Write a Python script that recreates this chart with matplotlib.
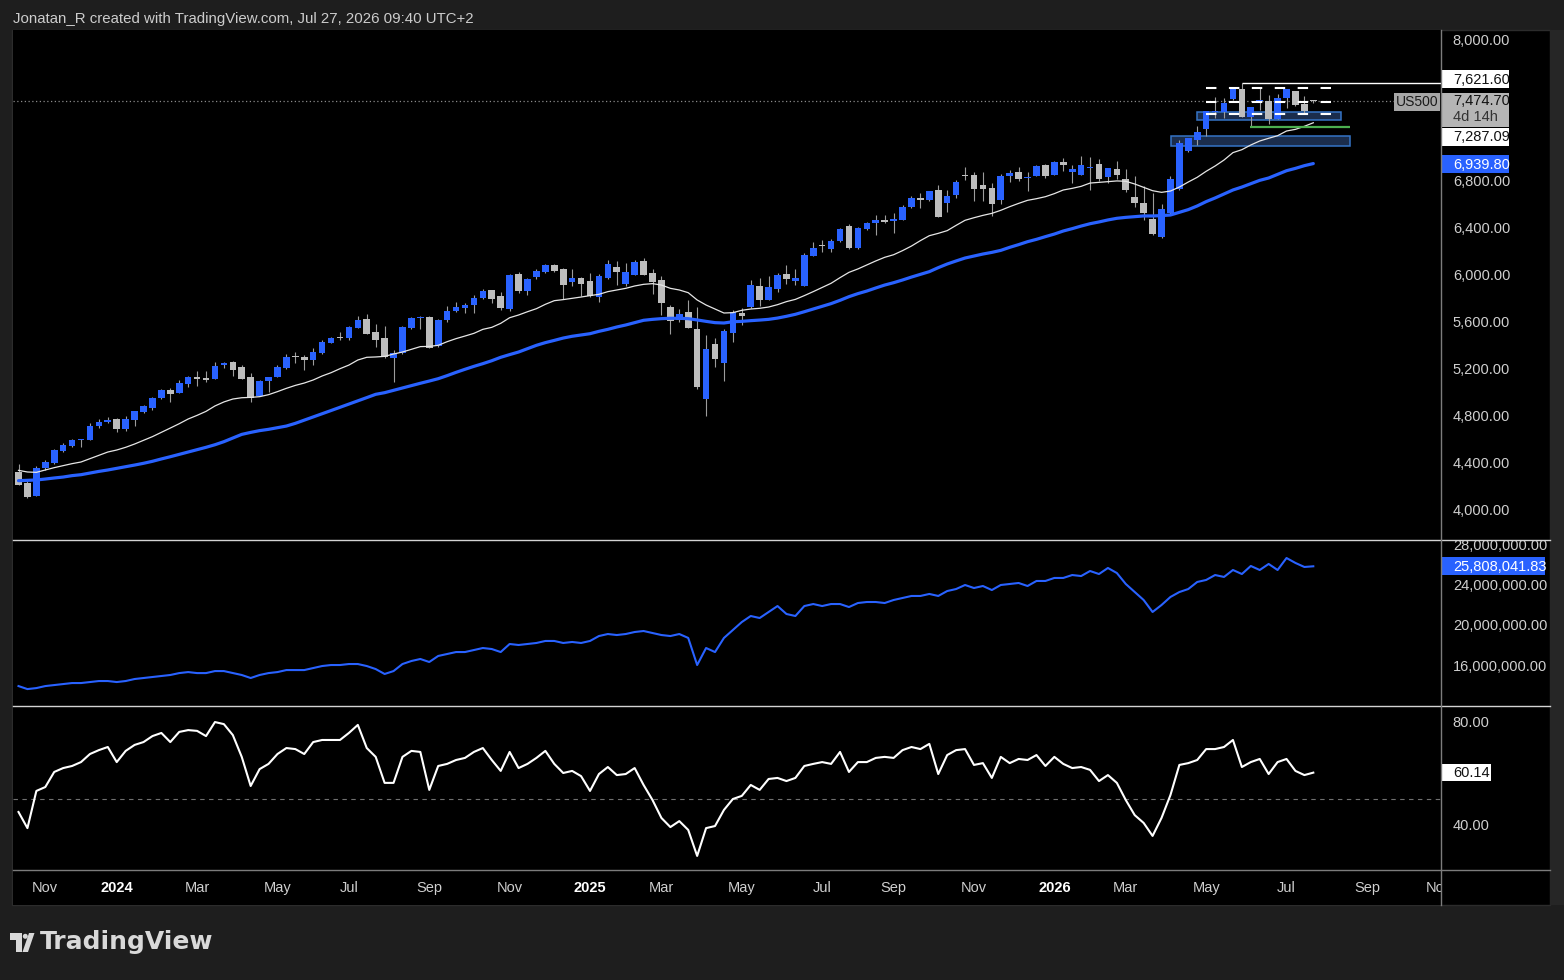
import numpy as np
import pandas as pd
import matplotlib
matplotlib.use('Agg')
import matplotlib.pyplot as plt
from matplotlib.patches import Rectangle, Polygon, Circle

plt.rcParams['font.family'] = ['Liberation Sans', 'DejaVu Sans']

W, H = 1564, 980

# weekly bars, first one is the week of 16 Oct 2023
dates = pd.date_range('2023-10-16', periods=146, freq='W-MON')

opens = [4315, 4221, 4114, 4352, 4394, 4496, 4539, 4590, 4590, 4709,
         4743, 4766, 4684, 4760, 4828, 4862, 4947, 5013, 4990, 5067,
         5121, 5112, 5109, 5223, 5251, 5208, 5121, 4965, 5092, 5126,
         5200, 5302, 5294, 5271, 5330, 5416, 5464, 5458, 5543, 5617,
         5506, 5455, 5288, 5325, 5543, 5628, 5634, 5387, 5609, 5685,
         5711, 5739, 5799, 5861, 5813, 5702, 6000, 5855, 5977, 6017,
         6077, 6043, 5932, 5966, 5940, 5804, 5969, 6060, 5915, 5994,
         6111, 6009, 5949, 5719, 5609, 5677, 5532, 4939, 5404, 5245,
         5498, 5665, 5722, 5898, 5782, 5875, 6000, 5943, 5901, 6156,
         6247, 6213, 6284, 6408, 6221, 6383, 6437, 6460, 6454, 6462,
         6570, 6647, 6630, 6715, 6607, 6672, 6845, 6843, 6757, 6732,
         6630, 6834, 6868, 6820, 6834, 6928, 6843, 6950, 6868, 6843,
         6905, 6936, 6826, 6894, 6809, 6655, 6604, 6468, 6315, 6519,
         6723, 7047, 7140, 7234, 7379, 7376, 7489, 7575, 7336, 7475,
         7472, 7319, 7498, 7557, 7447, 7478]
highs = [4383, 4255, 4369, 4417, 4513, 4559, 4593, 4599, 4729, 4766,
         4783, 4772, 4789, 4837, 4888, 4956, 5024, 5027, 5098, 5132,
         5174, 5174, 5251, 5251, 5262, 5223, 5155, 5098, 5126, 5223,
         5319, 5336, 5308, 5367, 5438, 5467, 5506, 5560, 5643, 5660,
         5574, 5557, 5353, 5557, 5634, 5640, 5640, 5620, 5728, 5762,
         5750, 5818, 5872, 5861, 5847, 6000, 6017, 5966, 6045, 6082,
         6082, 6048, 6043, 5974, 6009, 6000, 6119, 6111, 6094, 6119,
         6136, 6043, 5983, 5736, 5702, 5779, 5719, 5481, 5455, 5529,
         5694, 5708, 5949, 5966, 5983, 6008, 6077, 6043, 6179, 6272,
         6289, 6301, 6391, 6426, 6397, 6443, 6499, 6499, 6519, 6587,
         6664, 6689, 6706, 6757, 6715, 6800, 6911, 6868, 6868, 6774,
         6851, 6885, 6911, 6868, 6928, 6936, 6962, 6987, 6928, 7004,
         6993, 6979, 6902, 6962, 6894, 6834, 6749, 6689, 6596, 6834,
         7140, 7158, 7260, 7387, 7506, 7498, 7575, 7621.6, 7421, 7583,
         7523, 7532, 7575, 7557, 7515, 7484]
lows = [4201, 4096, 4111, 4332, 4383, 4488, 4530, 4530, 4587, 4687,
        4735, 4658, 4667, 4709, 4820, 4840, 4936, 4913, 4984, 5041,
        5050, 5084, 5106, 5203, 5135, 5104, 4913, 4959, 4999, 5121,
        5194, 5245, 5186, 5228, 5322, 5410, 5441, 5441, 5538, 5487,
        5382, 5288, 5084, 5319, 5535, 5535, 5367, 5382, 5594, 5680,
        5665, 5668, 5790, 5756, 5694, 5688, 5841, 5821, 5955, 6009,
        6017, 5790, 5901, 5813, 5801, 5762, 5957, 5906, 5898, 5989,
        5989, 5830, 5651, 5492, 5589, 5538, 5024, 4794, 5211, 5092,
        5424, 5569, 5708, 5730, 5779, 5850, 5915, 5906, 5898, 6153,
        6190, 6190, 6275, 6216, 6216, 6374, 6332, 6437, 6352, 6457,
        6562, 6562, 6624, 6485, 6528, 6650, 6800, 6621, 6621, 6494,
        6596, 6783, 6792, 6706, 6834, 6817, 6843, 6877, 6774, 6843,
        6715, 6792, 6772, 6809, 6698, 6573, 6460, 6332, 6306, 6511,
        6715, 7038, 7095, 7174, 7328, 7328, 7481, 7336, 7251, 7396,
        7277, 7319, 7413, 7430, 7362, 7458]
closes = [4207, 4105, 4349, 4400, 4502, 4545, 4587, 4596, 4706, 4740,
          4755, 4684, 4766, 4831, 4877, 4945, 5013, 4982, 5069, 5121,
          5109, 5101, 5217, 5240, 5186, 5109, 4947, 5089, 5123, 5208,
          5294, 5294, 5271, 5336, 5421, 5455, 5455, 5549, 5609, 5492,
          5438, 5296, 5328, 5549, 5626, 5634, 5373, 5609, 5685, 5719,
          5736, 5796, 5855, 5790, 5713, 5992, 5855, 5957, 6026, 6077,
          6026, 5909, 5966, 5915, 5813, 5983, 6085, 6017, 6017, 6102,
          5994, 5932, 5756, 5603, 5660, 5543, 5041, 5362, 5280, 5518,
          5677, 5645, 5906, 5782, 5889, 5991, 5957, 5966, 6162, 6221,
          6238, 6281, 6383, 6221, 6391, 6434, 6460, 6445, 6468, 6570,
          6647, 6633, 6706, 6485, 6664, 6783, 6837, 6723, 6723, 6599,
          6834, 6860, 6809, 6826, 6919, 6834, 6953, 6928, 6894, 6928,
          6911, 6809, 6902, 6843, 6715, 6604, 6519, 6340, 6553, 6809,
          7115, 7158, 7209, 7387, 7387, 7455, 7575, 7336, 7421, 7481,
          7319, 7498, 7575, 7438, 7387, 7474.7]

# moving averages as plotted (white = fast, blue = slow)
ma_fast = [4329, 4315, 4312, 4332, 4352, 4369, 4386, 4400, 4428, 4457,
           4485, 4502, 4525, 4553, 4584, 4616, 4652, 4689, 4726, 4766,
           4797, 4831, 4877, 4911, 4936, 4947, 4950, 4956, 4973, 4999,
           5027, 5052, 5072, 5098, 5132, 5160, 5194, 5225, 5268, 5291,
           5294, 5299, 5319, 5336, 5359, 5382, 5384, 5393, 5424, 5450,
           5472, 5495, 5529, 5546, 5580, 5628, 5651, 5679, 5705, 5742,
           5773, 5782, 5793, 5804, 5816, 5827, 5850, 5864, 5878, 5898,
           5912, 5918, 5906, 5878, 5864, 5841, 5779, 5736, 5702, 5668,
           5671, 5691, 5702, 5708, 5719, 5739, 5765, 5784, 5816, 5850,
           5886, 5921, 5969, 6014, 6043, 6077, 6111, 6142, 6164, 6199,
           6238, 6284, 6326, 6346, 6369, 6414, 6457, 6479, 6499, 6516,
           6542, 6573, 6601, 6627, 6641, 6658, 6684, 6715, 6729, 6746,
           6774, 6780, 6786, 6792, 6789, 6766, 6738, 6709, 6695, 6706,
           6740, 6783, 6823, 6874, 6919, 6970, 7033, 7058, 7098, 7132,
           7155, 7177, 7217, 7231, 7257, 7287.09]
ma_slow = [4241, 4244, 4247, 4255, 4264, 4272, 4284, 4292, 4306, 4320,
           4332, 4346, 4360, 4374, 4389, 4406, 4426, 4445, 4465, 4485,
           4505, 4525, 4547, 4573, 4604, 4635, 4652, 4667, 4678, 4692,
           4706, 4729, 4756, 4783, 4810, 4838, 4866, 4893, 4920, 4948,
           4976, 4990, 5010, 5030, 5050, 5070, 5089, 5109, 5135, 5163,
           5189, 5214, 5237, 5262, 5291, 5314, 5336, 5365, 5393, 5416,
           5435, 5455, 5470, 5481, 5492, 5512, 5529, 5549, 5566, 5586,
           5606, 5614, 5620, 5623, 5623, 5620, 5609, 5597, 5586, 5583,
           5594, 5597, 5603, 5608, 5614, 5625, 5640, 5657, 5679, 5702,
           5725, 5748, 5776, 5807, 5833, 5855, 5881, 5906, 5926, 5949,
           5974, 5997, 6020, 6054, 6085, 6111, 6136, 6153, 6170, 6184,
           6201, 6227, 6250, 6275, 6295, 6318, 6340, 6366, 6386, 6408,
           6428, 6443, 6460, 6474, 6482, 6488, 6494, 6494, 6497, 6502,
           6525, 6548, 6579, 6616, 6647, 6681, 6715, 6740, 6769, 6797,
           6817, 6848, 6879, 6899, 6922, 6939.80]

# second pane line, millions
line_mln = [13.91, 13.61, 13.71, 13.91, 14.01, 14.11, 14.21, 14.21, 14.31, 14.41,
            14.41, 14.31, 14.41, 14.61, 14.71, 14.81, 14.91, 15.01, 15.20, 15.30,
            15.20, 15.20, 15.40, 15.40, 15.20, 15.01, 14.71, 15.01, 15.20, 15.30,
            15.50, 15.50, 15.50, 15.70, 15.90, 16.00, 16.00, 16.10, 16.10, 15.90,
            15.60, 15.11, 15.40, 16.10, 16.40, 16.60, 16.30, 16.90, 17.09, 17.29,
            17.29, 17.49, 17.69, 17.59, 17.29, 18.09, 17.99, 18.09, 18.19, 18.39,
            18.39, 18.19, 18.29, 18.19, 18.39, 18.88, 19.08, 18.98, 19.08, 19.28,
            19.38, 19.18, 18.98, 18.88, 19.08, 18.69, 16.00, 17.69, 17.29, 18.69,
            19.48, 20.27, 20.87, 20.67, 21.27, 21.86, 21.07, 20.87, 21.86, 22.06,
            21.86, 22.06, 22.06, 21.76, 22.16, 22.26, 22.26, 22.16, 22.46, 22.66,
            22.86, 22.86, 23.06, 22.86, 23.35, 23.55, 23.95, 23.65, 23.85, 23.45,
            23.95, 24.05, 24.15, 23.85, 24.35, 24.35, 24.65, 24.65, 24.94, 24.84,
            25.34, 25.04, 25.64, 25.14, 24.05, 23.25, 22.46, 21.27, 21.96, 22.76,
            23.25, 23.55, 24.25, 24.45, 24.94, 24.75, 25.44, 25.04, 25.84, 25.44,
            26.04, 25.44, 26.63, 26.14, 25.74, 25.808041]

rsi = [45.0, 38.8, 53.1, 54.6, 60.4, 61.9, 62.7, 64.2, 67.3, 68.8,
       70.0, 64.2, 68.5, 70.8, 71.9, 74.2, 75.4, 71.9, 75.8, 76.5,
       76.2, 74.2, 79.6, 78.8, 74.6, 66.2, 55.0, 61.5, 63.5, 67.3,
       69.6, 69.2, 67.3, 71.9, 72.7, 72.7, 72.7, 75.4, 78.5, 69.6,
       66.2, 56.2, 56.2, 66.2, 68.5, 68.1, 53.5, 62.7, 63.5, 65.0,
       65.8, 68.1, 69.6, 65.0, 60.8, 68.1, 61.9, 63.5, 65.8, 68.5,
       63.5, 60.0, 60.8, 58.8, 53.1, 59.6, 62.3, 59.2, 59.6, 61.9,
       55.4, 49.6, 42.7, 39.2, 41.5, 38.1, 28.1, 38.8, 39.6, 45.8,
       50.0, 51.2, 55.4, 53.5, 57.7, 58.1, 56.9, 58.1, 62.7, 63.5,
       64.2, 63.5, 68.1, 60.4, 64.2, 64.2, 65.8, 66.2, 65.8, 68.8,
       70.0, 69.2, 71.2, 59.6, 66.9, 68.8, 69.2, 63.1, 63.8, 58.1,
       66.2, 63.8, 65.4, 65.0, 66.9, 62.7, 66.2, 63.5, 61.9, 62.3,
       61.2, 56.9, 59.2, 56.2, 49.6, 43.8, 40.8, 35.8, 42.7, 51.5,
       63.1, 63.8, 65.0, 69.2, 69.2, 70.0, 72.7, 62.3, 64.2, 65.4,
       59.6, 64.2, 65.4, 60.8, 59.2, 60.14]

# drawings on the chart (price levels)
range_high = 7621.6
green_level = 7254
dash_levels = [7587, 7466, 7358]
zone_upper = (7313, 7379)
zone_lower = (7092, 7175)

month_ticks = [('2023-11-06', 'Nov'), ('2024-01-01', '2024'), ('2024-03-04', 'Mar'),
               ('2024-05-06', 'May'), ('2024-07-01', 'Jul'), ('2024-09-02', 'Sep'),
               ('2024-11-04', 'Nov'), ('2025-01-06', '2025'), ('2025-03-03', 'Mar'),
               ('2025-05-05', 'May'), ('2025-07-07', 'Jul'), ('2025-09-01', 'Sep'),
               ('2025-11-03', 'Nov'), ('2026-01-05', '2026'), ('2026-03-02', 'Mar'),
               ('2026-05-04', 'May'), ('2026-07-06', 'Jul'), ('2026-09-07', 'Sep'),
               ('2026-11-02', 'Nov')]

BG = '#1e1e1e'
UP = '#2962ff'
DOWN = '#bdbdbd'
TXT = '#cfcfcf'


def rect(x0, y0, x1, y1):
    return [x0 / W, 1 - y1 / H, (x1 - x0) / W, (y1 - y0) / H]


def clean(ax):
    ax.set_facecolor('black')
    for s in ax.spines.values():
        s.set_visible(False)
    ax.tick_params(axis='x', bottom=False, labelbottom=False)


fig = plt.figure(figsize=(W / 100, H / 100), dpi=100, facecolor=BG)

bg = fig.add_axes([0, 0, 1, 1], zorder=0)
bg.set_xlim(0, W)
bg.set_ylim(H, 0)
bg.axis('off')
bg.add_patch(Rectangle((12, 30), 1538, 875, facecolor='black', edgecolor='#2c2c2c', lw=1))
bg.add_patch(Rectangle((1550, 30), 14, 875, facecolor='#262626', edgecolor='none'))

x = np.arange(len(closes))
xlim = (-0.616, 159.3)

# ---------------- main price pane ----------------
ax = fig.add_axes(rect(13, 30, 1441, 540), zorder=2)
clean(ax)
ax.set_xlim(*xlim)
ax.set_ylim(3736.2, 8076.6)

o = np.array(opens); c = np.array(closes)
up = c >= o
body_lo = np.minimum(o, c)
body_h = np.maximum(np.abs(c - o), 8.5)
ax.vlines(x, lows, highs, colors='#9c9c9c', lw=0.8, zorder=3)
ax.bar(x, body_h, bottom=body_lo, width=0.74,
       color=np.where(up, UP, DOWN), linewidth=0, zorder=4)

ax.plot(x, ma_fast, color='#e6e6e6', lw=0.9, zorder=5)
ax.plot(x, ma_slow, color=UP, lw=2.3, zorder=5, solid_capstyle='round')

ax.axhline(closes[-1], color='#8a8a8a', lw=0.9, ls=(0, (1, 2)), zorder=2)
ax.hlines(range_high, 137, xlim[1], color='white', lw=1.0, zorder=6)
ax.hlines(green_level, 137.9, 149.1, color='#4caf50', lw=1.6, zorder=6)
for lvl in dash_levels:
    ax.hlines(lvl, 133, 148.1, color='white', lw=1.5, ls=(0, (5, 6)), zorder=7)
for (lo, hi), (a, b) in [(zone_upper, (132.0, 148.1)), (zone_lower, (129.1, 149.1))]:
    ax.add_patch(Rectangle((a, lo), b - a, hi - lo, facecolor='#1b2d4c',
                           edgecolor='#3574c6', lw=1.1, zorder=1.5))

ax.yaxis.tick_right()
yt = [4000, 4400, 4800, 5200, 5600, 6000, 6400, 6800, 8000]
ax.set_yticks(yt)
ax.set_yticklabels([f'{v:,.2f}' for v in yt])
ax.tick_params(axis='y', length=0, pad=8.5, labelsize=10.5, labelcolor=TXT)

# ---------------- second pane ----------------
ax2 = fig.add_axes(rect(13, 540, 1441, 706), zorder=2)
clean(ax2)
ax2.set_xlim(*xlim)
ax2.set_ylim(11.93e6, 28.42e6)
ax2.plot(x, np.array(line_mln) * 1e6, color=UP, lw=1.5)
ax2.yaxis.tick_right()
yt2 = [16e6, 20e6, 24e6, 28e6]
ax2.set_yticks(yt2)
ax2.set_yticklabels([f'{v:,.2f}' for v in yt2])
ax2.tick_params(axis='y', length=0, pad=8.5, labelsize=10.5, labelcolor=TXT)

# ---------------- RSI pane ----------------
ax3 = fig.add_axes(rect(13, 706, 1441, 870), zorder=2)
clean(ax3)
ax3.set_xlim(*xlim)
ax3.set_ylim(22.69, 85.77)
ax3.axhline(50, color='#707070', lw=0.8, ls=(0, (4, 4)))
ax3.plot(x, rsi, color='white', lw=1.5)
ax3.yaxis.tick_right()
ax3.set_yticks([40, 80])
ax3.set_yticklabels(['40.00', '80.00'])
ax3.tick_params(axis='y', length=0, pad=8.5, labelsize=10.5, labelcolor=TXT)

# ---------------- time axis ----------------
tax = fig.add_axes(rect(13, 870, 1441, 905), zorder=2)
clean(tax)
tax.set_xlim(*xlim)
tax.set_ylim(0, 1)
tax.set_yticks([])
for d, lab in month_ticks:
    pos = (pd.Timestamp(d) - dates[0]).days / 7
    is_year = lab.isdigit()
    tax.text(pos, 0.5, lab, ha='center', va='center', clip_on=True,
             fontsize=10.5, color='white' if is_year else TXT,
             fontweight='bold' if is_year else 'normal')

# ---------------- overlay: separators, labels, header, logo ----------------
fg = fig.add_axes([0, 0, 1, 1], zorder=10)
fg.set_xlim(0, W)
fg.set_ylim(H, 0)
fg.axis('off')
fg.plot([13, 1550], [540, 540], color='#d4d4d4', lw=1.0)
fg.plot([13, 1550], [706, 706], color='#d4d4d4', lw=1.0)
fg.plot([13, 1550], [870, 870], color='#7c7c7c', lw=1.0)
fg.plot([1441, 1441], [30, 905], color='#7c7c7c', lw=1.0)


def ypix(axis, v):
    return H - axis.transData.transform((0, v))[1]


def tag(yc, text, face, color, x1=1509, h=17):
    fg.add_patch(Rectangle((1441.5, yc - h / 2), x1 - 1441.5, h, facecolor=face, edgecolor='none'))
    fg.text(1453, yc + 0.5, text, color=color, va='center', ha='left', fontsize=10.5)


tag(ypix(ax, range_high) - 4, f'{range_high:,.2f}', 'white', '#111111', h=18)
last = closes[-1]
yl = ypix(ax, last)
fg.add_patch(Rectangle((1441.5, yl - 8), 67.5, 34, facecolor='#b5b5b5', edgecolor='none'))
fg.text(1453, yl + 0.5, f'{last:,.2f}', color='#111111', va='center', fontsize=10.5)
fg.text(1453, yl + 16.5, '4d 14h', color='#333333', va='center', fontsize=10.5)
fg.add_patch(Rectangle((1394, yl - 8), 46, 18, facecolor='#a6a6a6', edgecolor='none'))
fg.text(1417, yl + 1, 'US500', color='#1a1a1a', va='center', ha='center', fontsize=10)
tag(ypix(ax, ma_fast[-1]) + 14, f'{ma_fast[-1]:,.2f}', 'white', '#111111', h=18)
tag(ypix(ax, ma_slow[-1]) + 0.5, f'{ma_slow[-1]:,.2f}', UP, 'white', h=18)
tag(ypix(ax2, line_mln[-1] * 1e6), '25,808,041.83', UP, 'white', x1=1545, h=18)
tag(ypix(ax3, rsi[-1]), f'{rsi[-1]:.2f}', 'white', '#111111', x1=1491, h=17)

fg.text(13, 19, 'Jonatan_R created with TradingView.com, Jul 27, 2026 09:40 UTC+2',
        color='#cccccc', fontsize=10.8, va='center', ha='left')

logo = '#d9d9d9'
fg.add_patch(Polygon([(10, 933), (21.5, 933), (21.5, 952), (15.5, 952), (15.5, 939.5), (10, 939.5)],
                     closed=True, facecolor=logo, edgecolor='none'))
fg.add_patch(Circle((25.3, 936.3), 2.5, facecolor=logo, edgecolor='none'))
fg.add_patch(Polygon([(22.5, 952), (29, 933), (34.5, 933), (28, 952)],
                     closed=True, facecolor=logo, edgecolor='none'))
fg.text(40, 942, 'TradingView', color=logo, fontsize=18, fontweight='bold',
        va='center', ha='left', family='DejaVu Sans')

fig.savefig('out.png', dpi=100, facecolor=BG)
